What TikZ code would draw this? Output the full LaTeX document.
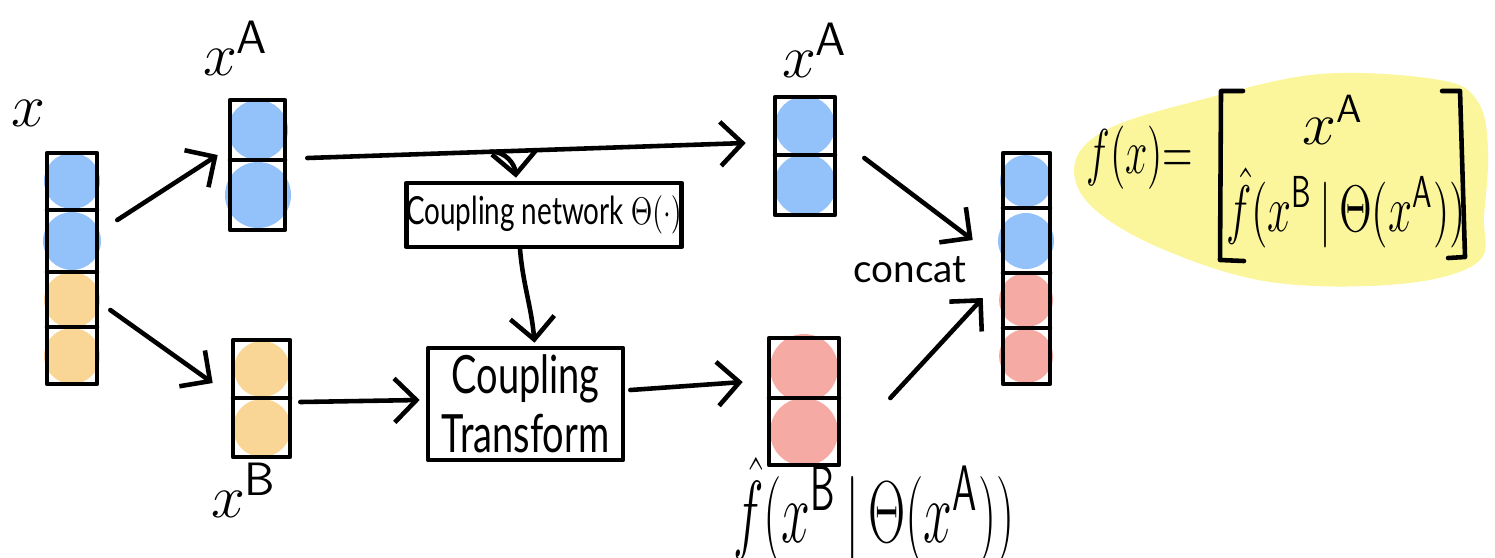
\documentclass[tikz,border=0pt]{standalone}
\usepackage{fontspec}
\setmainfont{Lato}
\usetikzlibrary{arrows.meta,calc}
\definecolor{cblue}{HTML}{93C1FA}
\definecolor{corange}{HTML}{FAD696}
\definecolor{cred}{HTML}{F5AAA3}
\definecolor{cyel}{HTML}{FBF69C}
\tikzset{
  ln/.style={line width=1.3pt, line cap=round, line join=round},
  vec/.style={ln, draw, rectangle, inner sep=0pt},
  arr/.style={ln, -{Straight Barb[length=2.2mm,width=4.4mm]}},
  box/.style={ln, draw, rectangle, inner sep=0pt, align=center},
  lab/.style={inner sep=0pt, font=\fontsize{19}{22}\selectfont},
  txt/.style={inner sep=0pt, align=center},
}
\begin{document}
\begin{tikzpicture}[x=0.01cm,y=-0.01cm]
\useasboundingbox (0,0) rectangle (1495,557);

% ---- cell fills ----
\fill[cblue]   (72,181) circle (28) (72,241) circle (29);
\fill[corange] (72,300) circle (28) (72,356) circle (28);
\fill[cblue]   (258,130) circle (30) (258,195) circle (33);
\fill[corange] (262,369) circle (28) (262,428) circle (29);
\fill[cblue]   (805,126) circle (30) (805,185) circle (31);
\fill[cred]    (804,368) circle (34) (804,432) circle (34);
\fill[cblue]   (1026,181) circle (26) (1026,241) circle (28);
\fill[cred]    (1026,300) circle (27) (1026,356) circle (27);

% ---- vectors ----
\node[vec, minimum width=0.50cm, minimum height=2.31cm] (X)  at (72,268.5) {};
\node[vec, minimum width=0.55cm, minimum height=1.30cm] (xA) at (257.5,165) {};
\node[vec, minimum width=0.57cm, minimum height=1.17cm] (xB) at (261.5,398.5) {};
\node[vec, minimum width=0.60cm, minimum height=1.18cm] (xA2) at (805,156) {};
\node[vec, minimum width=0.70cm, minimum height=1.27cm] (R)  at (804,401.5) {};
\node[vec, minimum width=0.47cm, minimum height=2.31cm] (F)  at (1026.5,268.5) {};

% dividers
\draw[ln] (47,210) -- (97,210) (47,272) -- (97,272) (47,327) -- (97,327);
\draw[ln] (230,160) -- (285,160);
\draw[ln] (233,398) -- (290,398);
\draw[ln] (775,155) -- (835,155);
\draw[ln] (769,398) -- (839,398);
\draw[ln] (1003,208) -- (1050,208) (1003,273) -- (1050,273) (1003,328) -- (1050,328);

% ---- boxes ----
\node[box, minimum width=2.68cm, minimum height=0.64cm] (net) at (544,215)
  {\scalebox{0.72}[1]{\fontsize{11}{13}\selectfont Coupling network $\Theta(\cdot)$}};
\node[box, minimum width=1.95cm, minimum height=1.12cm] (trans) at (525.5,404)
  {\scalebox{0.72}[1]{\fontsize{15}{17}\selectfont Coupling}\\[2pt]\scalebox{0.72}[1]{\fontsize{15}{17}\selectfont Transform}};

% ---- labels ----
\node[lab] (lx) at (28,113) {$x$};
\node[lab] (lxA) at (236,48) {$x^{\mathsf{A}}$};
\node[lab] (lxB) at (244,490) {$x^{\mathsf{B}}$};
\node[lab] (lxA2) at (815,50) {$x^{\mathsf{A}}$};
\node[txt, font=\fontsize{18}{20}\selectfont] (lR) at (874,511)
  {\scalebox{0.85}[1.45]{$\hat f(x^{\mathsf{B}}\,|\,\Theta(x^{\mathsf{A}}))$}};
\node[txt, font=\fontsize{11}{13}\selectfont] (concat) at (910,270) {concat};

% ---- arrows ----
\draw[arr] ([shift={(18,-48.5)}]X.east) -- ([shift={(-10,-10)}]xA.west);
\draw[arr] ([shift={(11,41.5)}]X.east) -- ([shift={(-18,-15.5)}]xB.west);
\draw[arr] ([shift={(20,-7)}]xA.east) -- coordinate[pos=0.42] (br) ([shift={(-27,-13)}]xA2.west);
\draw[arr] (br) to[out=0,in=95] ([shift={(-28,-3)}]net.north);
\draw[arr] ([shift={(-24,0)}]net.south) to[out=-85,in=95] ([shift={(9,-3)}]trans.north);
\draw[arr] ([shift={(8,3.5)}]xB.east) -- ([shift={(-6,-4)}]trans.west);
\draw[arr] ([shift={(5,-14)}]trans.east) -- ([shift={(-24,-19.5)}]R.west);
\draw[arr] ([shift={(27,2)}]xA2.east) -- ([shift={(-28,-28.5)}]F.west);
\draw[arr] ([shift={(49,-3.5)}]R.east) -- ([shift={(-18,29.5)}]F.west);

% ---- formula ----
\fill[cyel] plot[smooth cycle, tension=0.6] coordinates {
  (1075,162) (1110,128) (1200,100) (1320,74) (1440,80) (1478,102)
  (1488,150) (1484,215) (1478,262) (1400,284) (1270,282) (1160,248) (1090,205)};
\draw[ln] (1243,91) -- (1221,91) -- (1220,260) -- (1244,261);
\draw[ln] (1442,91) -- (1460,91) -- (1465,257) -- (1448,258);
\node[txt, font=\fontsize{13}{15}\selectfont] (fx) at (1140,158)
  {\scalebox{0.95}[1.5]{$f(x){=}$}};
\node[txt, font=\fontsize{16}{18}\selectfont] (fA) at (1333,120) {$x^{\mathsf{A}}$};
\node[txt, font=\fontsize{14}{16}\selectfont] (fB) at (1346,208)
  {\scalebox{0.85}[1.3]{$\hat f(x^{\mathsf{B}}\,|\,\Theta(x^{\mathsf{A}}))$}};
\end{tikzpicture}
\end{document}
